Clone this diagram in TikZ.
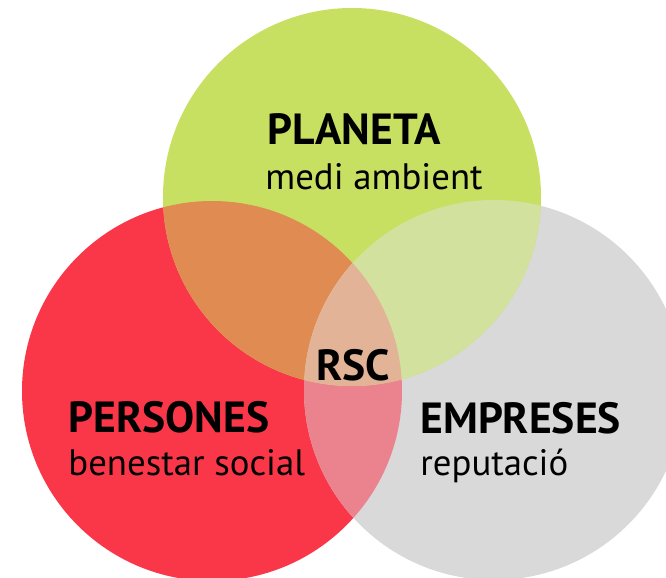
\documentclass[tikz,border=0pt]{standalone}
\usepackage{fontspec}
\setmainfont{PT Sans}
\usepackage{tikz}
\usepackage{xcolor}

\definecolor{planetagreen}{HTML}{C8E062}
\definecolor{personesred}{HTML}{FA3649}
\definecolor{empresesgray}{HTML}{D9D9D9}
\definecolor{redgreen}{HTML}{E08B52}
\definecolor{greengray}{HTML}{D2E19D}
\definecolor{redgray}{HTML}{EA838E}
\definecolor{rscpeach}{HTML}{E2B396}

\tikzset{
  title/.style={anchor=base west, inner sep=0pt, font=\fontsize{21.8}{26}\selectfont\bfseries},
  subtitle/.style={anchor=base west, inner sep=0pt, font=\fontsize{18.4}{22}\selectfont}
}

\begin{document}
\begin{tikzpicture}[x=0.5pt,y=-0.5pt]
\clip (0,0) rectangle (666,578);
\fill[white] (0,0) rectangle (666,578);

\coordinate (planeta) at (352,197);
\coordinate (persones) at (212,391);
\coordinate (empreses) at (494,390);

% the three circles
\fill[personesred] (persones) circle (95pt);
\fill[empresesgray] (empreses) circle (95pt);
\fill[planetagreen] (planeta) circle (94.5pt);

% overlaps
\begin{scope}
\clip (persones) circle (95pt);
\fill[redgreen] (planeta) circle (94.5pt);
\fill[redgray] (empreses) circle (95pt);
\end{scope}
\begin{scope}
\clip (planeta) circle (94.5pt);
\fill[greengray] (empreses) circle (95pt);
\end{scope}
\begin{scope}
\clip (persones) circle (95pt);
\clip (planeta) circle (94.5pt);
\fill[rscpeach] (empreses) circle (95pt);
\end{scope}

\node[title] (planetaname) at (267,144) {PLANETA};
\node[subtitle] (planetatext) at (265,190) {medi ambient};
\node[title] (rsc) at (316,380) {RSC};
\node[title] (personesname) at (68,432) {PERSONES};
\node[subtitle] (personestext) at (68,475) {benestar social};
\node[title] (empresesname) at (420,433) {EMPRESES};
\node[subtitle] (empresestext) at (420,475) {reputació};

\end{tikzpicture}
\end{document}
